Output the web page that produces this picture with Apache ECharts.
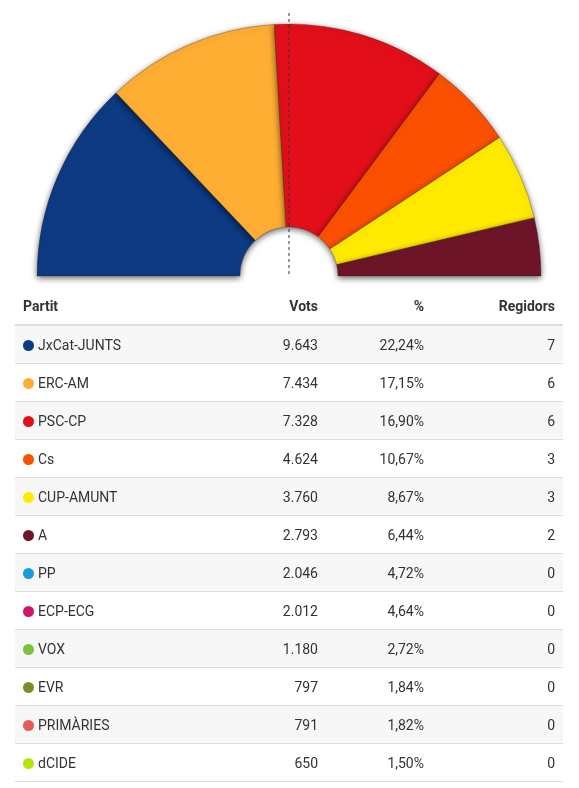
<!DOCTYPE html>
<html><head><meta charset="utf-8">
<script src="https://cdn.jsdelivr.net/npm/echarts@6/dist/echarts.min.js"></script>
<style>
body{margin:0;background:#fff;font-family:Roboto,sans-serif;}
#c{position:absolute;left:0;top:0;width:579px;height:290px;}
table{position:absolute;left:15px;top:287px;width:548px;border-collapse:collapse;font-size:14px;color:#333;}
th{font-weight:bold;height:37px;border-bottom:2px solid #ddd;padding:0 8px;}
td{height:37px;border-bottom:1px solid #ddd;padding:0 8px;}
tr:nth-child(odd) td{background:#f7f7f7;}
.r{text-align:right}
.dot{display:inline-block;width:11px;height:11px;border-radius:50%;margin-right:4px;vertical-align:-1px;}
</style></head><body>
<div id="c"></div>
<table id="t"><thead><tr><th style="text-align:left">Partit</th><th class="r">Vots</th><th class="r" style="width:90px">%</th><th class="r" style="width:115px">Regidors</th></tr></thead><tbody></tbody></table>
<script>
const parties=["JxCat-JUNTS","ERC-AM","PSC-CP","Cs","CUP-AMUNT","A","PP","ECP-ECG","VOX","EVR","PRIMÀRIES","dCIDE"];
const votes=["9.643","7.434","7.328","4.624","3.760","2.793","2.046","2.012","1.180","797","791","650"];
const pcts=["22,24%","17,15%","16,90%","10,67%","8,67%","6,44%","4,72%","4,64%","2,72%","1,84%","1,82%","1,50%"];
const seats=[7,6,6,3,3,2,0,0,0,0,0,0];
const colors=["#0d3a82","#fdae33","#e20f1a","#fb5000","#ffea00","#6e1529","#1a9be0","#d1156e","#7ac23a","#7f8c2a","#e85a5a","#b9e600"];
const tb=document.querySelector('#t tbody');
parties.forEach((p,i)=>{const tr=document.createElement('tr');
tr.innerHTML=`<td><span class="dot" style="background:${colors[i]}"></span>${p}</td><td class="r">${votes[i]}</td><td class="r">${pcts[i]}</td><td class="r">${seats[i]}</td>`;tb.appendChild(tr);});
const ch=echarts.init(document.getElementById('c'));
ch.setOption({animation:false,
series:[{type:'pie',center:[289,276],radius:[49,252],startAngle:180,endAngle:0,clockwise:true,silent:true,label:{show:false},
itemStyle:{borderColor:'rgba(60,30,20,0.5)',borderWidth:0.6,shadowBlur:6,shadowColor:'rgba(0,0,0,0.6)',shadowOffsetY:2},
data:parties.map((p,i)=>({name:p,value:seats[i],itemStyle:{color:colors[i]}})).filter(d=>d.value>0)}],
graphic:[{type:'line',shape:{x1:289,y1:13,x2:289,y2:277},style:{stroke:'#333',lineDash:[3,3],lineWidth:1},z:100}]
});
</script></body></html>
